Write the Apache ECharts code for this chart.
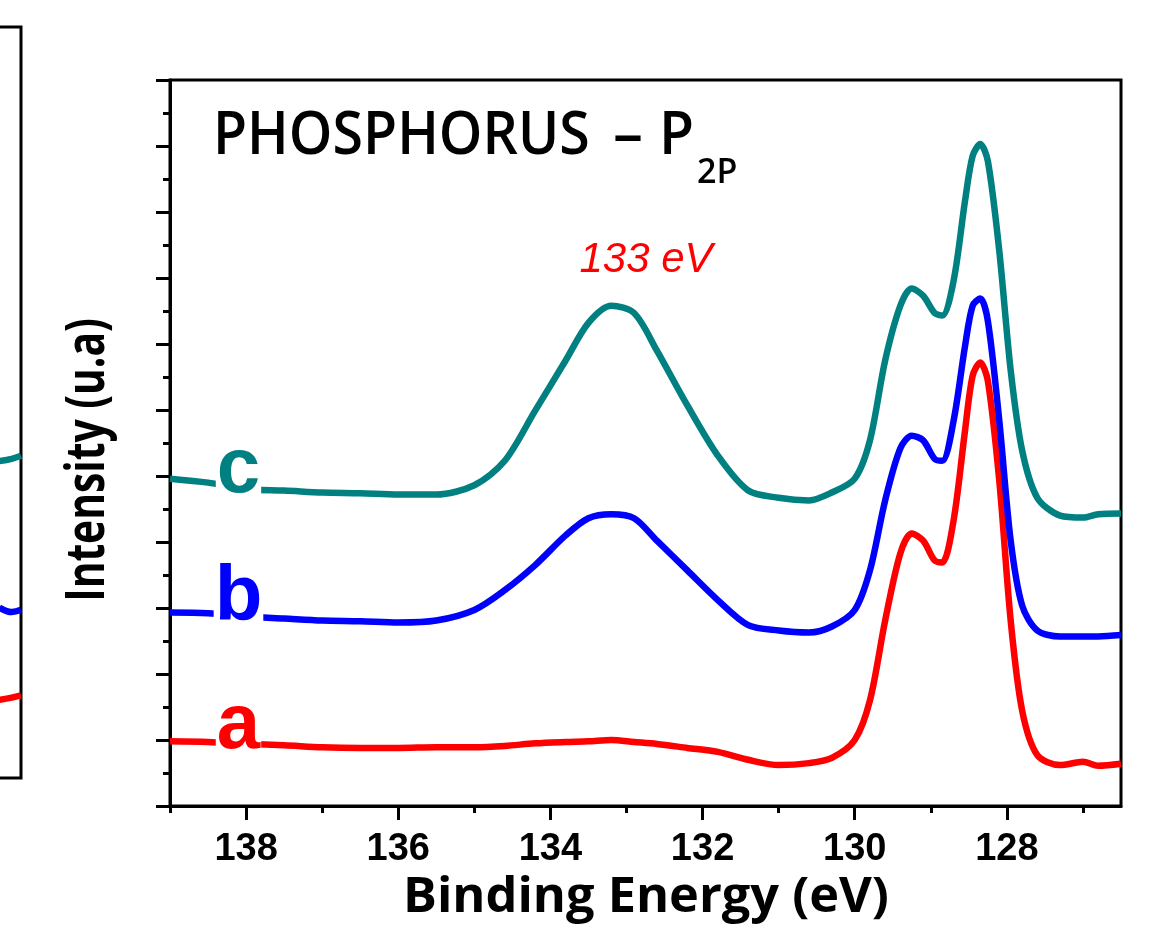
<!DOCTYPE html>
<html>
<head>
<meta charset="utf-8">
<script src="https://cdn.jsdelivr.net/npm/echarts@6/dist/echarts.min.js"></script>
<style>
  html, body { margin: 0; padding: 0; background: #fff; }
  #chart { width: 1150px; height: 928px; }
</style>
</head>
<body>
<div id="chart"></div>
<script>
// Binding energies (eV) shared by the three P 2p spectra
const energy = [139.0, 138.5, 138.0, 137.5, 137.0, 136.5, 136.0, 135.5, 135.0, 134.6,
  134.2, 133.8, 133.5, 133.2, 132.9, 132.6, 132.2, 131.8, 131.4, 131.0,
  130.6, 130.3, 130.0, 129.8, 129.6, 129.4, 129.25, 129.1, 128.95, 128.85,
  128.7, 128.55, 128.45, 128.35, 128.25, 128.1, 127.95, 127.8, 127.6, 127.3,
  127.0, 126.8, 126.5];

// Stacked intensities (arbitrary units)
const curveA = [0.98, 0.97, 0.94, 0.92, 0.89, 0.88, 0.88, 0.89, 0.89, 0.91,
  0.95, 0.97, 0.98, 1.00, 0.97, 0.94, 0.88, 0.82, 0.70, 0.62,
  0.65, 0.73, 1.00, 1.60, 2.81, 3.83, 4.13, 4.02, 3.72, 3.69,
  4.33, 5.69, 6.52, 6.72, 6.44, 4.93, 2.81, 1.45, 0.77, 0.62,
  0.67, 0.61, 0.64];
const curveB = [2.93, 2.92, 2.87, 2.84, 2.81, 2.80, 2.78, 2.81, 2.97, 3.27,
  3.65, 4.10, 4.36, 4.42, 4.36, 4.02, 3.57, 3.12, 2.74, 2.66,
  2.63, 2.72, 2.97, 3.57, 4.63, 5.42, 5.61, 5.54, 5.26, 5.23,
  5.84, 6.97, 7.58, 7.69, 7.35, 5.84, 4.02, 3.04, 2.66, 2.57,
  2.57, 2.57, 2.59];
const curveC = [4.96, 4.90, 4.80, 4.78, 4.75, 4.74, 4.72, 4.72, 4.86, 5.23,
  5.99, 6.75, 7.32, 7.58, 7.47, 6.90, 6.07, 5.31, 4.78, 4.67,
  4.63, 4.75, 4.96, 5.54, 6.75, 7.58, 7.84, 7.73, 7.47, 7.43,
  7.96, 9.17, 9.85, 10.03, 9.77, 8.41, 6.60, 5.39, 4.67, 4.40,
  4.37, 4.42, 4.43];

const curveTags = ['a', 'b', 'c'];
const curveColors = ['#ff0000', '#0000ff', '#008080'];
const tagEnergy = 138.1;

// Axis ticks
const majorTicks = [128, 130, 132, 134, 136, 138];
const minorTicks = [127, 129, 131, 133, 135, 137, 139];

// Edge of the neighbouring panel on the left
const sideX = [0.3, 0.7, 1.0];
const sideA = [1.04, 1.07, 1.10];
const sideB = [2.27, 2.21, 2.24];
const sideC = [4.22, 4.25, 4.29];

function valueAt(vals, e) {
  for (let i = 0; i < energy.length - 1; i++) {
    const e0 = energy[i], e1 = energy[i + 1];
    if ((e <= e0 && e >= e1)) {
      const t = (e0 - e) / (e0 - e1);
      return vals[i] + t * (vals[i + 1] - vals[i]);
    }
  }
  return vals[0];
}

const curveValues = [curveA, curveB, curveC];

const mainSeries = curveValues.map((vals, k) => ({
  type: 'line',
  xAxisIndex: 0,
  yAxisIndex: 0,
  data: energy.map((e, i) => [e, vals[i]]),
  showSymbol: false,
  smooth: 0.3,
  lineStyle: { color: curveColors[k], width: 6.5 },
  itemStyle: { color: curveColors[k] },
  silent: true,
  markPoint: {
    symbol: 'rect',
    symbolSize: 1,
    itemStyle: { color: 'rgba(0,0,0,0)' },
    label: {
      show: true,
      position: 'inside',
      formatter: curveTags[k],
      fontFamily: 'Liberation Sans',
      fontWeight: 'bold',
      fontSize: 78,
      lineHeight: 60,
      color: curveColors[k],
      backgroundColor: '#fff',
      padding: [0, 1],
      offset: [0, -17]
    },
    data: [{ coord: [tagEnergy, valueAt(vals, tagEnergy)] }]
  }
}));

const sideSeries = [sideA, sideB, sideC].map((vals, k) => ({
  type: 'line',
  xAxisIndex: 2,
  yAxisIndex: 2,
  data: sideX.map((x, i) => [x, vals[i]]),
  showSymbol: false,
  smooth: 0.4,
  lineStyle: { color: curveColors[k], width: 6.5 },
  silent: true
}));

const chart = echarts.init(document.getElementById('chart'), null, { renderer: 'canvas' });

const tickStyle = { color: '#000', width: 3 };

function titleText(text, x, y, size, align, scaleX) {
  return {
    type: 'text', x: x, y: y, scaleX: scaleX || 1, silent: true,
    style: {
      text: text, fill: '#000',
      fontFamily: 'Open Sans', fontSize: size, fontWeight: 600,
      align: align, verticalAlign: 'middle', textAlign: align, textVerticalAlign: 'middle'
    }
  };
}

chart.setOption({
  animation: false,
  backgroundColor: '#fff',
  grid: [
    { left: 170, right: 29, top: 80, bottom: 122, show: true, borderColor: '#000', borderWidth: 3, outerBoundsMode: 'none', containLabel: false },
    { left: 170, right: 29, top: 80, bottom: 122, show: false, outerBoundsMode: 'none', containLabel: false },
    { left: -10, width: 31, top: 27, bottom: 150, show: true, borderColor: '#000', borderWidth: 3, outerBoundsMode: 'none', containLabel: false }
  ],
  xAxis: [
    {
      gridIndex: 0, type: 'value', inverse: true, min: 126.5, max: 139,
      axisLine: { show: true, onZero: false, lineStyle: tickStyle },
      axisTick: { show: true, length: 14, lineStyle: tickStyle, customValues: majorTicks },
      axisLabel: {
        show: true, customValues: majorTicks, margin: 25,
        fontFamily: 'Liberation Sans', fontWeight: 'bold', fontSize: 38, color: '#000'
      },
      splitLine: { show: false }
    },
    {
      gridIndex: 1, type: 'value', inverse: true, min: 126.5, max: 139,
      axisLine: { show: false },
      axisTick: { show: true, length: 7, lineStyle: tickStyle, customValues: minorTicks },
      axisLabel: { show: false },
      splitLine: { show: false }
    },
    {
      gridIndex: 2, type: 'value', min: 0, max: 1, show: false
    }
  ],
  yAxis: [
    {
      gridIndex: 0, type: 'value', min: 0, max: 11, interval: 1,
      axisLine: { show: true, onZero: false, lineStyle: tickStyle },
      axisTick: { show: true, length: 14, lineStyle: tickStyle },
      minorTick: { show: true, splitNumber: 2, length: 7, lineStyle: tickStyle },
      axisLabel: { show: false },
      splitLine: { show: false },
      minorSplitLine: { show: false }
    },
    { gridIndex: 1, type: 'value', min: 0, max: 11, show: false },
    { gridIndex: 2, type: 'value', min: 0, max: 10, show: false }
  ],
  graphic: [
    titleText('PHOSPHORUS', 213, 137, 60, 'left', 0.925),
    titleText('–', 628, 137, 60, 'center', 1),
    titleText('P', 659, 137, 60, 'left', 0.95),
    titleText('2P', 697, 173, 34, 'left', 1),
    {
      type: 'text', x: 646, y: 260, silent: true,
      style: {
        text: '133 eV', fill: '#ff0000',
        fontFamily: 'Liberation Sans', fontSize: 42, fontStyle: 'italic',
        align: 'center', verticalAlign: 'middle', textAlign: 'center', textVerticalAlign: 'middle'
      }
    },
    {
      type: 'text', x: 646, y: 898, scaleX: 1.03, silent: true,
      style: {
        text: 'Binding Energy (eV)', fill: '#000',
        fontFamily: 'Open Sans', fontSize: 49, fontWeight: 'bold',
        align: 'center', verticalAlign: 'middle', textAlign: 'center', textVerticalAlign: 'middle'
      }
    },
    {
      type: 'text', x: 89, y: 460, rotation: Math.PI / 2, scaleX: 0.755, silent: true,
      style: {
        text: 'Intensity (u.a)', fill: '#000',
        fontFamily: 'Open Sans', fontSize: 54, fontWeight: 'bold',
        align: 'center', verticalAlign: 'middle', textAlign: 'center', textVerticalAlign: 'middle'
      }
    }
  ],
  series: mainSeries.concat(sideSeries)
});
</script>
</body>
</html>
